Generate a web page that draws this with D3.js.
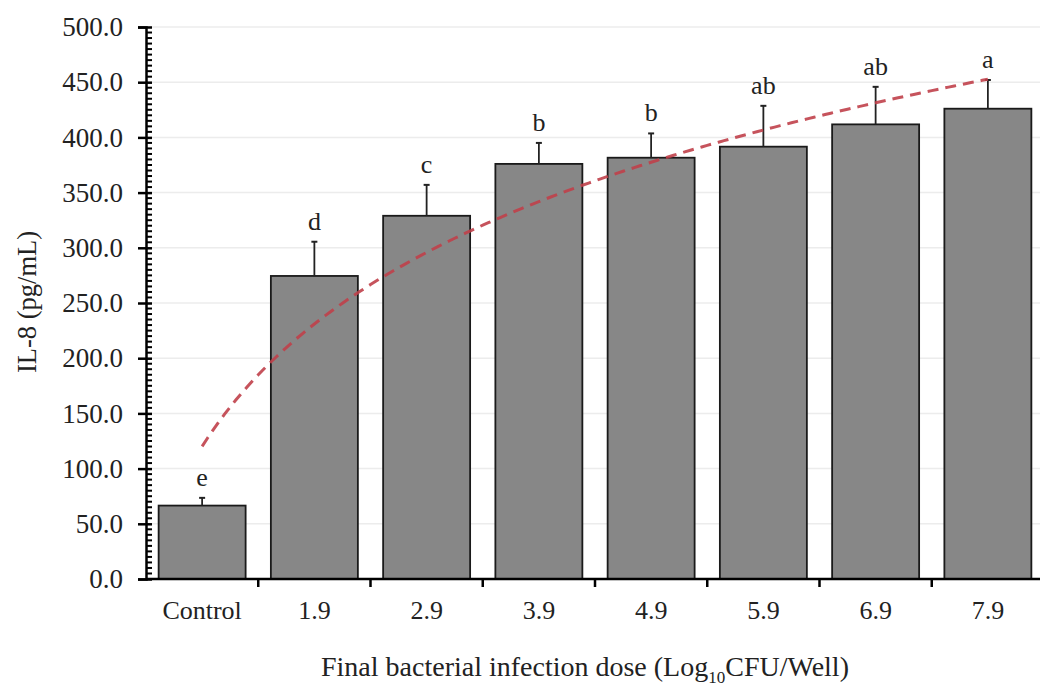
<!DOCTYPE html>
<html>
<head>
<meta charset="utf-8">
<script src="https://cdn.jsdelivr.net/npm/d3@7"></script>
<style>
  body { margin: 0; background: #fff; }
  svg { font-family: "Liberation Serif", "Times New Roman", serif; }
</style>
</head>
<body>
<svg id="chart" width="1040" height="686"></svg>
<script>
// data
const categories = ["Control", "1.9", "2.9", "3.9", "4.9", "5.9", "6.9", "7.9"]
const means = [66.5, 274.5, 329, 376, 381.6, 391.6, 411.8, 426]
const sds = [7, 31, 28, 19, 22, 37, 34, 26]
const letters = ["e", "d", "c", "b", "b", "ab", "ab", "a"]
const yTicks = [0, 50, 100, 150, 200, 250, 300, 350, 400, 450, 500]

const svg = d3.select("#chart")
const plotLeft = 146, plotRight = 1044, plotTop = 27, plotBottom = 579

const x = d3.scaleBand().domain(categories).range([plotLeft, plotRight])
  .paddingInner(0.225).paddingOuter(0.1125)
const y = d3.scaleLinear().domain([0, 500]).range([plotBottom, plotTop])

// faint gridlines
svg.append("g").selectAll("line")
  .data(yTicks.slice(1))
  .enter().append("line")
  .attr("x1", plotLeft).attr("x2", plotRight)
  .attr("y1", d => y(d)).attr("y2", d => y(d))
  .style("stroke", "#ececec").style("stroke-width", 1.5)

// bars
svg.append("g").selectAll("rect")
  .data(means)
  .enter().append("rect")
  .attr("x", (d, i) => x(categories[i]))
  .attr("y", d => y(d))
  .attr("width", x.bandwidth())
  .attr("height", d => y(0) - y(d))
  .style("fill", "#878787")
  .style("stroke", "#1a1a1a")
  .style("stroke-width", 1.8)

// error bars (upper only)
const errG = svg.append("g")
means.forEach((m, i) => {
  const cx = x(categories[i]) + x.bandwidth() / 2
  errG.append("line")
    .attr("x1", cx).attr("x2", cx)
    .attr("y1", y(m)).attr("y2", y(m + sds[i]))
    .style("stroke", "#222").style("stroke-width", 1.8)
  errG.append("line")
    .attr("x1", cx - 3).attr("x2", cx + 3)
    .attr("y1", y(m + sds[i])).attr("y2", y(m + sds[i]))
    .style("stroke", "#222").style("stroke-width", 2)
  errG.append("text")
    .attr("x", cx)
    .attr("y", y(m + sds[i]) - 12)
    .attr("text-anchor", "middle")
    .style("font-size", "26px")
    .style("fill", "#222")
    .text(letters[i])
})

// logarithmic trendline fitted to the means (like Excel's log trend)
const lx = means.map((d, i) => Math.log(i + 1))
const mx = d3.mean(lx), my = d3.mean(means)
const slope = d3.sum(lx, (v, i) => (v - mx) * (means[i] - my)) / d3.sum(lx, v => (v - mx) * (v - mx))
const intercept = my - slope * mx
const xi = d3.scaleLinear().domain([1, categories.length])
  .range([x(categories[0]) + x.bandwidth() / 2, x(categories[categories.length - 1]) + x.bandwidth() / 2])
const trend = d3.range(1, categories.length + 0.001, 0.05).map(t => [t, intercept + slope * Math.log(t)])
svg.append("path")
  .datum(trend)
  .attr("d", d3.line().x(d => xi(d[0])).y(d => y(d[1])))
  .style("fill", "none")
  .style("stroke", "#c0404a")
  .style("stroke-width", 3)
  .style("stroke-dasharray", "11,7")
  .style("opacity", 0.9)

// y axis
const yAxisG = svg.append("g").attr("transform", `translate(${plotLeft},0)`)
yAxisG.call(d3.axisLeft(y).tickValues(yTicks).tickFormat(d3.format(".1f")).tickSize(8).tickPadding(15))
yAxisG.select(".domain").style("stroke", "#000").style("stroke-width", 2.5)
yAxisG.selectAll(".tick line").style("stroke", "#000").style("stroke-width", 2.5).attr("x2", -8).attr("x1", 6)
yAxisG.selectAll(".tick text").style("font-size", "27px").style("fill", "#222").style("font-family", "Liberation Serif")
// minor ticks
yAxisG.append("g").selectAll("line")
  .data(d3.range(0, 501, 5).filter(d => d % 50 !== 0))
  .enter().append("line")
  .attr("x1", 0).attr("x2", 6)
  .attr("y1", d => y(d)).attr("y2", d => y(d))
  .style("stroke", "#000").style("stroke-width", 2)

// x axis
const xAxisG = svg.append("g").attr("transform", `translate(0,${plotBottom})`)
xAxisG.append("line").attr("x1", plotLeft).attr("x2", plotRight)
  .style("stroke", "#000").style("stroke-width", 2.5)
xAxisG.selectAll(".sep")
  .data(categories.slice(1))
  .enter().append("line")
  .attr("class", "sep")
  .attr("x1", d => x(d) - x.step() * x.paddingInner() / 2)
  .attr("x2", d => x(d) - x.step() * x.paddingInner() / 2)
  .attr("y1", 0).attr("y2", 8)
  .style("stroke", "#000").style("stroke-width", 2.5)
xAxisG.selectAll(".lab")
  .data(categories)
  .enter().append("text")
  .attr("class", "lab")
  .attr("x", d => x(d) + x.bandwidth() / 2)
  .attr("y", 40)
  .attr("text-anchor", "middle")
  .style("font-size", "26px")
  .style("fill", "#222")
  .text(d => d)

// axis titles
svg.append("text")
  .attr("transform", "translate(36,302) rotate(-90)")
  .attr("text-anchor", "middle")
  .style("font-size", "26.5px")
  .style("fill", "#222")
  .text("IL-8 (pg/mL)")

const xt = svg.append("text")
  .attr("x", 585).attr("y", 676)
  .attr("text-anchor", "middle")
  .style("font-size", "28px")
  .style("fill", "#222")
xt.append("tspan").text("Final bacterial infection dose (Log")
xt.append("tspan").attr("dy", 7).style("font-size", "17px").text("10")
xt.append("tspan").attr("dy", -7).text("CFU/Well)")
</script>
</body>
</html>
